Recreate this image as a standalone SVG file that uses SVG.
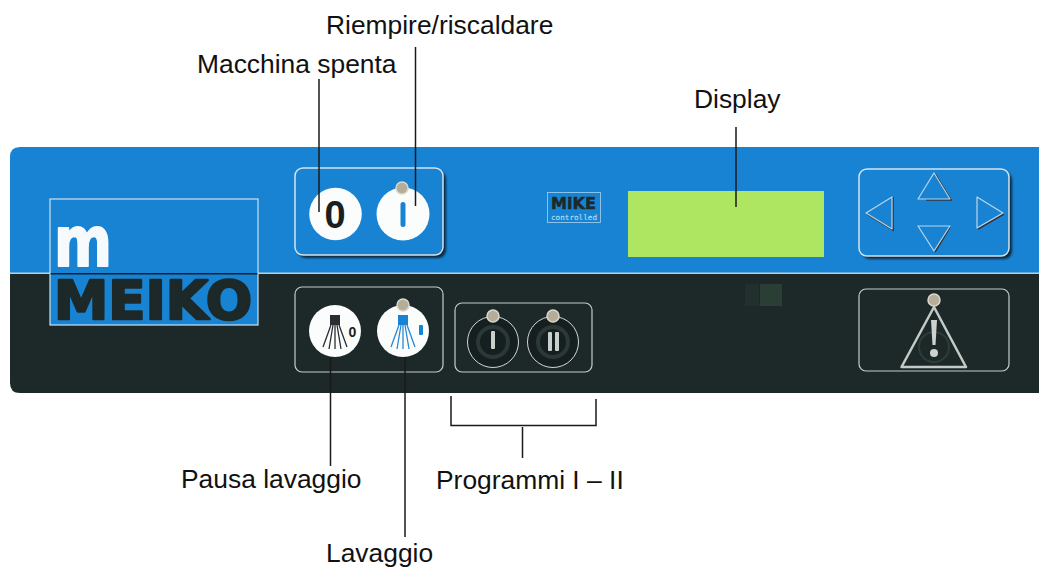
<svg xmlns="http://www.w3.org/2000/svg" width="1039" height="567" viewBox="0 0 1039 567">
<style>
.lbl{font-family:"Liberation Sans",Arial,sans-serif;font-size:26.4px;fill:#111}
.conn{stroke:#1a1a1a;stroke-width:1.5;fill:none}
.frame{fill:none;stroke:#d5e4ee;stroke-width:1.5}
.frameD{fill:none;stroke:#c4cccc;stroke-width:1.2}
.key{fill:#fbfcfc}
.led{fill:#b5ad98;stroke:#d8d8d0;stroke-width:1.5}
.tri{fill:none;stroke:#bcd6e8;stroke-width:1.2;stroke-linejoin:round}
.triS{fill:none;stroke:#30343a;stroke-width:1.6}
.sprayK{stroke:#2a2e30;stroke-width:1.3;fill:none}
.sprayB{stroke:#2a88d4;stroke-width:1.3;fill:none}
.ring{fill:#161f1f;stroke:#d0d6d6;stroke-width:1}
.inner{fill:none;stroke:#2b3936;stroke-width:4}
.bar{fill:#c9cfca}
.logo{font-family:"DejaVu Sans",sans-serif;font-weight:bold;stroke-linejoin:round}
</style>
<defs>
<filter id="soft" x="-20%" y="-20%" width="140%" height="140%"><feGaussianBlur stdDeviation="1.2"/></filter>
<clipPath id="panelClip"><path d="M20 147H1039V393H20Q10 393 10 383V157Q10 147 20 147Z"/></clipPath>
</defs>
<rect width="1039" height="567" fill="#fff"/>
<g id="panel" clip-path="url(#panelClip)">
<rect x="0" y="147" width="1039" height="126" fill="#1883d3"/>
<rect x="0" y="273" width="1039" height="120" fill="#1d2929"/>
<rect x="0" y="272.500" width="1039" height="1.500" fill="#b8d0de"/>
<rect x="745" y="284" width="14" height="22" fill="#21302c"/>
<rect x="760" y="284" width="22" height="22" fill="#2a3e35"/>
</g>
<g id="logo">
<rect x="50" y="199" width="208" height="126" fill="#1883d3" stroke="#cfe2ee" stroke-width="1.200"/>
<rect x="50.600" y="273" width="206.800" height="1.500" fill="#10202c"/>
<text class="logo" x="54" y="266" font-size="70" fill="#f6fafc" stroke="#f6fafc" stroke-width="2" textLength="58" lengthAdjust="spacingAndGlyphs">m</text>
<text class="logo" x="54" y="319" font-size="53" fill="#1d2929" stroke="#1d2929" stroke-width="2.500" textLength="198" lengthAdjust="spacingAndGlyphs">MEIKO</text>
</g>
<g id="power-keys">
<rect x="298" y="171" width="148" height="87" rx="8" fill="#0c2a40" filter="url(#soft)"/>
<rect x="295" y="168" width="148" height="87" rx="8" class="frame" style="fill:#1883d3"/>
<circle class="key" cx="335.500" cy="214" r="26.300"/>
<text x="335" y="228" text-anchor="middle" font-family="'Liberation Sans',sans-serif" font-weight="bold" font-size="38" fill="#1a1e20">0</text>
<circle class="key" cx="403" cy="214" r="26.500"/>
<circle class="led" cx="402" cy="188" r="6"/>
<rect x="400.500" y="202" width="5" height="25" rx="2.500" fill="#1883d3"/>
</g>
<g id="wash-keys">
<rect class="frameD" x="295" y="287" width="148" height="85" rx="7"/>
<circle class="key" cx="335" cy="331" r="26"/>
<rect x="330" y="315" width="10" height="10" fill="#2a2e30"/>
<path class="sprayK" d="M331 325L323 347M333 325L329 349M335 325V349M337 325L341 349M339 325L347 347"/>
<text x="352.500" y="336.500" text-anchor="middle" font-family="'Liberation Sans',sans-serif" font-weight="bold" font-size="14" fill="#1a1e20">0</text>
<circle class="key" cx="403" cy="331" r="26"/>
<circle class="led" cx="403" cy="305" r="6"/>
<rect x="398" y="315" width="10" height="10" fill="#1883d3"/>
<path class="sprayB" d="M399 325L391 347M401 325L397 349M403 325V349M405 325L409 349M407 325L415 347"/>
<rect x="419" y="325" width="4" height="10" rx="1" fill="#1883d3"/>
</g>
<g id="program-keys">
<rect class="frameD" x="455" y="303" width="137" height="69" rx="7"/>
<circle class="ring" cx="493" cy="342" r="25.500"/>
<circle class="inner" cx="493" cy="342" r="15"/>
<rect class="bar" x="491" y="331" width="4" height="18" rx="1"/>
<circle class="led" cx="493" cy="316" r="6"/>
<circle class="ring" cx="553" cy="342" r="25.500"/>
<circle class="inner" cx="553" cy="342" r="15"/>
<rect class="bar" x="548" y="332" width="4" height="19" rx="1"/>
<rect class="bar" x="555" y="332" width="4" height="19" rx="1"/>
<circle class="led" cx="553" cy="316" r="6"/>
</g>
<g id="mike-logo">
<rect x="547.500" y="192.500" width="53" height="30" fill="#1883d3" stroke="#a9d2ec" stroke-width="0.800"/>
<text class="logo" x="551" y="209" font-size="16.500" fill="#1d2929" stroke="#1d2929" stroke-width="0.500" textLength="45" lengthAdjust="spacingAndGlyphs">MiKE</text>
<text x="551" y="220" font-family="'DejaVu Sans Mono',monospace" font-size="7.500" fill="#cfe6f5" textLength="46" lengthAdjust="spacingAndGlyphs">controlled</text>
</g>
<g id="display"><rect x="628" y="191" width="196" height="66" fill="#aee661"/></g>
<g id="arrow-keys">
<rect x="862" y="172" width="150" height="87" rx="8" fill="#0c2a40" filter="url(#soft)"/>
<rect x="859" y="169" width="150" height="87" rx="8" fill="#1883d3" stroke="#d5e4ee" stroke-width="1.500"/>
<path class="triS" d="M935 174L951 200H926"/>
<path class="tri" d="M934 173L918 199H950Z"/>
<path class="triS" d="M950 227L935 252"/>
<path class="tri" d="M918 226H950L934 251Z"/>
<path class="triS" d="M893 197V230L867 214"/>
<path class="tri" d="M866 213L892 197V229Z"/>
<path class="triS" d="M978 229L1004 214"/>
<path class="tri" d="M1003 213L977 197V228Z"/>
</g>
<g id="warning-key">
<rect class="frameD" x="859" y="289" width="150" height="82" rx="7"/>
<circle cx="934" cy="347" r="15" fill="none" stroke="#2f3d3a" stroke-width="2"/>
<path d="M934 307L901.500 367H966Z" fill="none" stroke="#c4cac6" stroke-width="2.500" stroke-linejoin="round"/>
<circle class="led" cx="934" cy="300" r="6"/>
<path d="M931 320H937L935.500 345H932.500Z" fill="#ccd2ce"/>
<circle cx="934" cy="353" r="4" fill="#ccd2ce"/>
</g>
<g id="connectors">
<path class="conn" d="M319 79V212"/>
<path class="conn" d="M415.500 47V206"/>
<path class="conn" d="M736 127V207"/>
<path class="conn" d="M330.500 357V466"/>
<path class="conn" d="M405 357V537"/>
<path class="conn" d="M451 396V425.500H596V399M522.500 427V458"/>
</g>
<g id="labels">
<text class="lbl" x="197" y="73">Macchina spenta</text>
<text class="lbl" x="326" y="34">Riempire/riscaldare</text>
<text class="lbl" x="694" y="108">Display</text>
<text class="lbl" x="181" y="488">Pausa lavaggio</text>
<text class="lbl" x="436" y="489">Programmi I – II</text>
<text class="lbl" x="326" y="562">Lavaggio</text>
</g>
</svg>
